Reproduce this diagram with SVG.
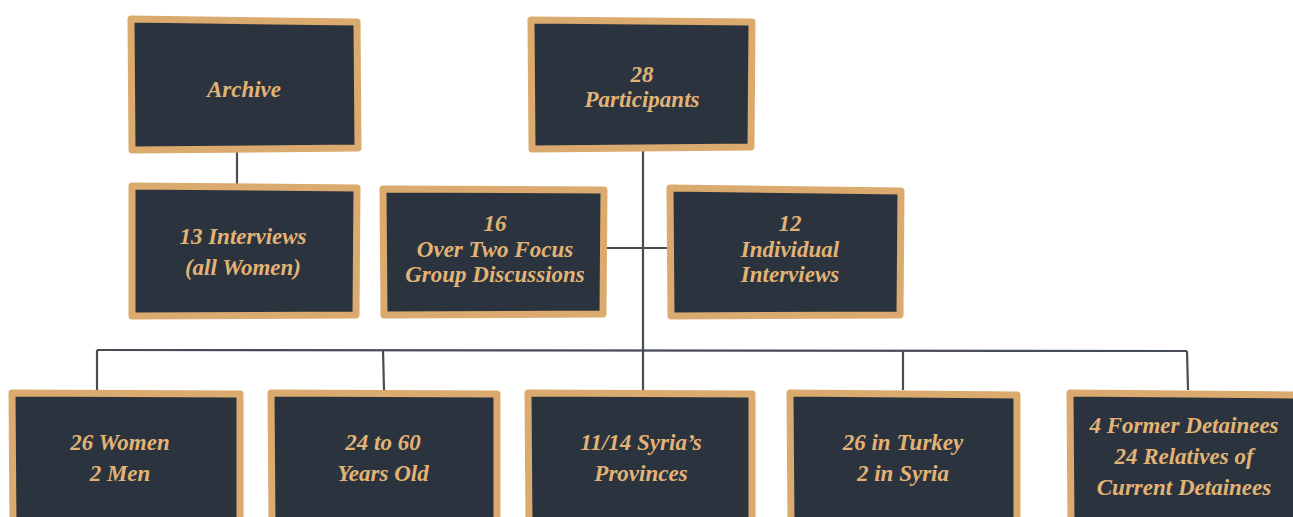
<svg xmlns="http://www.w3.org/2000/svg" width="1293" height="517" viewBox="0 0 1293 517">
<style>
.box{fill:#2b343e;stroke:#dbaa6e;stroke-width:7;stroke-linejoin:round}
.t{font-family:"Liberation Serif",serif;font-style:italic;font-weight:bold;font-size:23px;fill:#e2b375;text-anchor:middle}
.c{stroke:#474d54;stroke-width:2.2;fill:none}
</style>
<rect width="1293" height="517" fill="#ffffff"/>
<g id="connectors">
<line class="c" x1="237" y1="152" x2="237" y2="184"/>
<line class="c" x1="643" y1="150" x2="643" y2="390"/>
<line class="c" x1="605" y1="248" x2="669" y2="248"/>
<line class="c" x1="97" y1="350" x2="1187" y2="351"/>
<line class="c" x1="97" y1="350" x2="97" y2="390"/>
<line class="c" x1="383" y1="350" x2="384" y2="390"/>
<line class="c" x1="903" y1="350" x2="903" y2="390"/>
<line class="c" x1="1187" y1="351" x2="1188" y2="390"/>
</g>
<g id="archive">
<path class="box" d="M131,19 L357,22 L358,148 L132,150 Z"/>
<text class="t" x="244" y="97">Archive</text>
</g>
<g id="participants">
<path class="box" d="M531,20 L752,22 L751,147 L532,149 Z"/>
<text class="t" x="642" y="82">28</text>
<text class="t" x="642" y="107">Participants</text>
</g>
<g id="interviews13">
<path class="box" d="M132,186 L357,188 L356,315 L132,316 Z"/>
<text class="t" x="243" y="244">13 Interviews</text>
<text class="t" x="243" y="275">(all Women)</text>
</g>
<g id="focus16">
<path class="box" d="M383,189 L604,190 L603,314 L384,315 Z"/>
<text class="t" x="495" y="231">16</text>
<text class="t" x="495" y="257">Over Two Focus</text>
<text class="t" x="495" y="282">Group Discussions</text>
</g>
<g id="individual12">
<path class="box" d="M670,188 L901,191 L900,315 L671,316 Z"/>
<text class="t" x="790" y="231">12</text>
<text class="t" x="790" y="257">Individual</text>
<text class="t" x="790" y="282">Interviews</text>
</g>
<g id="gender">
<path class="box" d="M12,393 L240,394 L240,525 L13,525 Z"/>
<text class="t" x="120" y="450">26 Women</text>
<text class="t" x="120" y="481">2 Men</text>
</g>
<g id="age">
<path class="box" d="M271,393 L497,394 L497,525 L272,525 Z"/>
<text class="t" x="383" y="450">24 to 60</text>
<text class="t" x="383" y="481">Years Old</text>
</g>
<g id="provinces">
<path class="box" d="M528,393 L752,394 L752,525 L529,525 Z"/>
<text class="t" x="641" y="450">11/14 Syria’s</text>
<text class="t" x="641" y="481">Provinces</text>
</g>
<g id="location">
<path class="box" d="M790,393 L1017,395 L1017,525 L791,525 Z"/>
<text class="t" x="903" y="450">26 in Turkey</text>
<text class="t" x="903" y="481">2 in Syria</text>
</g>
<g id="detainees">
<path class="box" d="M1070,393 L1300,395 L1300,525 L1071,525 Z"/>
<text class="t" x="1184" y="433">4 Former Detainees</text>
<text class="t" x="1184" y="464">24 Relatives of</text>
<text class="t" x="1184" y="495">Current Detainees</text>
</g>
</svg>
